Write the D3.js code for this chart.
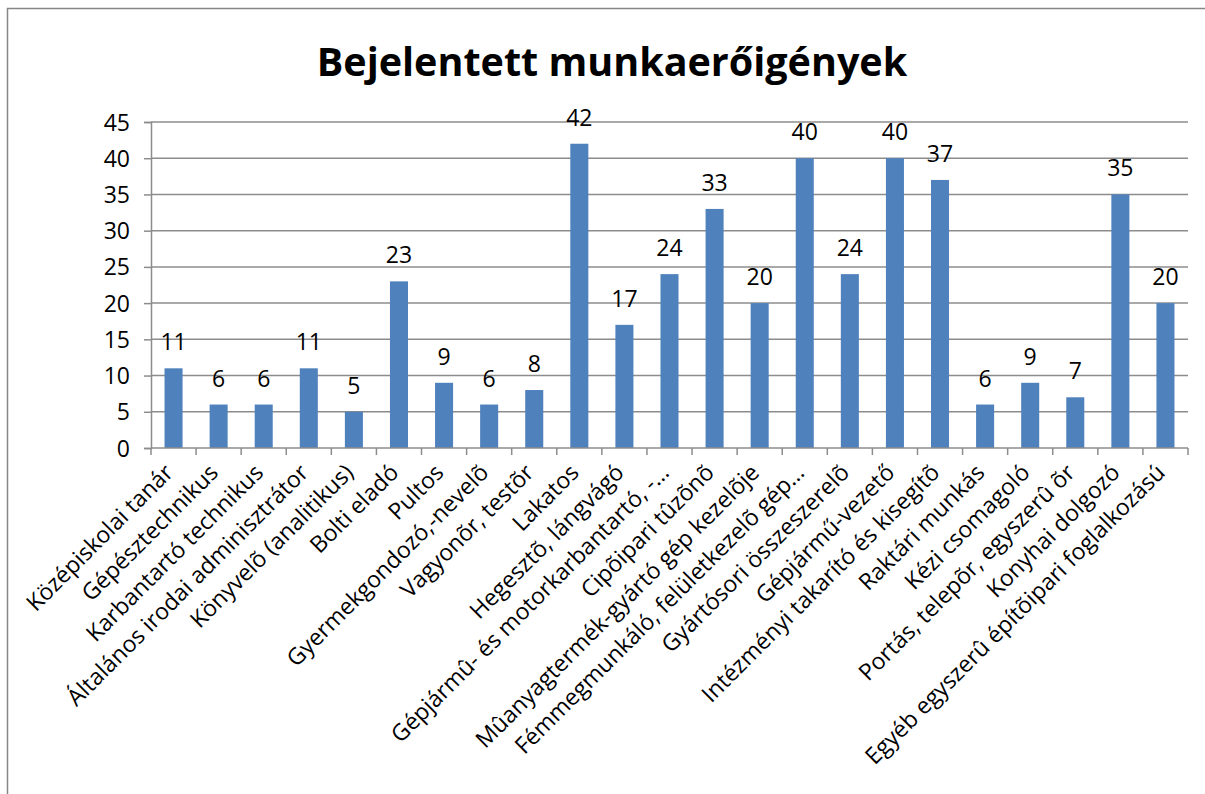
<!DOCTYPE html>
<html>
<head>
<meta charset="utf-8">
<script src="https://cdn.jsdelivr.net/npm/d3@7"></script>
<style>
  body { margin: 0; background: #fff; }
  svg { display: block; font-family: "Open Sans", sans-serif; }
</style>
</head>
<body>
<svg class="chart"></svg>
<script>
// Data
var categories = [
  "Középiskolai tanár", "Gépésztechnikus", "Karbantartó technikus",
  "Általános irodai adminisztrátor", "Könyvelõ (analitikus)", "Bolti eladó",
  "Pultos", "Gyermekgondozó,-nevelõ", "Vagyonõr, testõr", "Lakatos",
  "Hegesztõ, lángvágó", "Gépjármû- és motorkarbantartó, -…", "Cipõipari tûzõnõ",
  "Mûanyagtermék-gyártó gép kezelõje", "Fémmegmunkáló, felületkezelõ gép…",
  "Gyártósori összeszerelõ", "Gépjármű-vezető", "Intézményi takarító és kisegítõ",
  "Raktári munkás", "Kézi csomagoló", "Portás, telepõr, egyszerû õr",
  "Konyhai dolgozó", "Egyéb egyszerû építõipari foglalkozású"
];
var values = [11, 6, 6, 11, 5, 23, 9, 6, 8, 42, 17, 24, 33, 20, 40, 24, 40, 37, 6, 9, 7, 35, 20];
var yTicks = [0, 5, 10, 15, 20, 25, 30, 35, 40, 45];
var title = "Bejelentett munkaerőigények";

var W = 1205, H = 794;
var margin = {top: 122, right: 17, bottom: 346, left: 151},
  width = W - margin.left - margin.right,
  height = H - margin.top - margin.bottom;
var fontSize = 23;

var svg = d3.select(".chart").attr("width", W).attr("height", H);

// outer chart frame (only top and left visible in the picture)
svg.append("path")
  .attr("d", "M7.5," + H + "V8.5H" + W)
  .attr("fill", "none")
  .attr("stroke", "#868686")
  .attr("stroke-width", 1.5);

svg.append("text")
  .attr("x", 612)
  .attr("y", 76)
  .attr("text-anchor", "middle")
  .style("font-size", "39.5px")
  .style("font-weight", "bold")
  .text(title);

var body = svg.append("g")
  .attr("transform", "translate(" + margin.left + "," + margin.top + ")");

var x = d3.scaleBand()
  .domain(categories)
  .range([0, width])
  .paddingInner(0.6)
  .paddingOuter(0.3);

var y = d3.scaleLinear()
  .domain([0, 45])
  .range([height, 0]);

// gridlines
body.append("g")
  .selectAll("line")
  .data(yTicks.slice(1))
  .join("line")
    .attr("x1", 0).attr("x2", width)
    .attr("y1", function(d) { return y(d); })
    .attr("y2", function(d) { return y(d); })
    .attr("stroke", "#8c8c8c")
    .attr("stroke-width", 1.5);

// y axis
var yAxis = body.append("g")
  .call(d3.axisLeft(y).tickValues(yTicks).tickSize(7).tickPadding(14));
yAxis.select(".domain").attr("stroke", "#8c8c8c").attr("stroke-width", 1.5);
yAxis.selectAll(".tick line").attr("stroke", "#8c8c8c").attr("stroke-width", 1.5);
yAxis.selectAll(".tick text")
  .style("font-size", fontSize + "px")
  .style("font-family", "Open Sans, sans-serif")
  .attr("fill", "#000")
  .attr("dy", "0.35em");

// bars
body.append("g")
  .selectAll("rect")
  .data(values)
  .join("rect")
    .attr("x", function(d, i) { return x(categories[i]); })
    .attr("y", function(d) { return y(d); })
    .attr("width", x.bandwidth())
    .attr("height", function(d) { return height - y(d); })
    .attr("fill", "#4f81bd");

// value labels
body.append("g")
  .selectAll("text")
  .data(values)
  .join("text")
    .attr("x", function(d, i) { return x(categories[i]) + x.bandwidth() / 2; })
    .attr("y", function(d) { return y(d) - 18; })
    .attr("text-anchor", "middle")
    .style("font-size", fontSize + "px")
    .text(function(d) { return d; });

// x axis: ticks sit on category boundaries, labels rotated
var step = x.step();
var xAxisG = body.append("g").attr("transform", "translate(0," + height + ")");
xAxisG.append("line")
  .attr("x1", 0).attr("x2", width)
  .attr("stroke", "#8c8c8c").attr("stroke-width", 1.5);
xAxisG.selectAll(".xtick")
  .data(d3.range(categories.length + 1))
  .join("line")
    .attr("class", "xtick")
    .attr("x1", function(i) { return i * step; })
    .attr("x2", function(i) { return i * step; })
    .attr("y1", 0).attr("y2", 7)
    .attr("stroke", "#8c8c8c").attr("stroke-width", 1.5);
xAxisG.selectAll(".xlabel")
  .data(categories)
  .join("text")
    .attr("class", "xlabel")
    .attr("text-anchor", "end")
    .attr("transform", function(d) {
      return "translate(" + (x(d) + x.bandwidth() / 2 + 1) + ",26) rotate(-45)";
    })
    .style("font-size", fontSize + "px")
    .text(function(d) { return d; });
</script>
</body>
</html>
